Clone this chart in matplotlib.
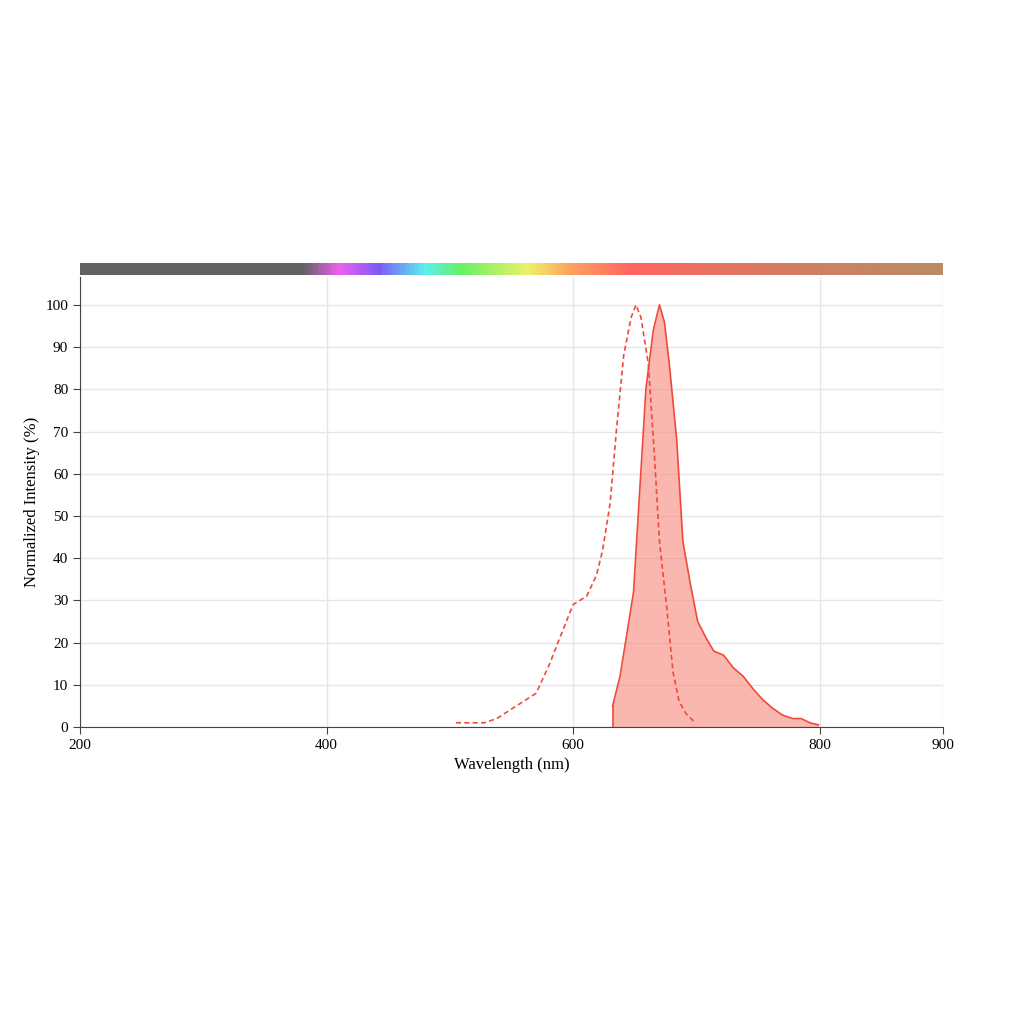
import matplotlib
matplotlib.use("Agg")
import matplotlib.pyplot as plt
import numpy as np
from matplotlib.colors import LinearSegmentedColormap

plt.rcParams['font.family'] = ['Liberation Serif', 'DejaVu Serif']

ex_wl = [505, 528, 538, 554, 570, 581, 589, 600, 611, 619, 624, 630, 635, 641, 647, 651, 655, 661, 666, 670, 676, 681, 686, 692, 699]
ex_val = [1, 1, 2, 5, 8, 15, 21, 29, 31, 36, 42, 53, 70, 88, 97, 100, 97, 86, 64, 44, 28, 13, 6, 3, 1]
em_wl = [632, 638, 643, 649, 654, 659, 665, 670, 674, 678, 684, 689, 695, 701, 708, 714, 722, 730, 738, 746, 754, 762, 770, 778, 785, 792, 799]
em_val = [5, 12, 21, 32, 56, 80, 94, 100, 96, 86, 68, 44, 34, 25, 21, 18, 17, 14, 12, 9, 6.4, 4.4, 2.8, 2, 2, 1, 0.5]
xticks = [200, 400, 600, 800, 900]
yticks = list(range(0, 101, 10))

fig = plt.figure(figsize=(10.24, 10.24), dpi=100)
ax = fig.add_axes([80/1024, 1-727/1024, 863/1024, 450/1024])
ax.fill_between(em_wl, em_val, 0, color='#f8877c', alpha=0.6, linewidth=0)
ax.plot(em_wl, em_val, color='#f04a3c', lw=1.2)
ax.plot([em_wl[0], em_wl[0]], [0, em_val[0]], color='#f04a3c', lw=1.2)
ax.plot(ex_wl, ex_val, color='#f04a3c', lw=1.2, ls=(0, (3, 2)))
ax.set_xlim(200, 900)
ax.set_ylim(0, 106.6)
ax.set_xticks(xticks)
ax.set_yticks(yticks)
ax.grid(True, color='#e6e6e6', lw=1)
ax.set_axisbelow(True)
for s in ['top', 'right']:
    ax.spines[s].set_visible(False)
for s in ['left', 'bottom']:
    ax.spines[s].set_color('#444444')
ax.tick_params(labelsize=11, color='#444444', length=5)
ax.set_xlabel('Wavelength (nm)', fontsize=12)
ax.set_ylabel('Normalized Intensity (%)', fontsize=12)

cax = fig.add_axes([80/1024, 1-275/1024, 863/1024, 12/1024])
stops = [(0.0, '#626262'), (0.257, '#626262'), (0.3, '#f060f0'), (0.345, '#7b5cf5'),
         (0.4, '#5cf0f0'), (0.44, '#66f066'), (0.52, '#f0f066'), (0.57, '#ffa060'),
         (0.64, '#ff6464'), (0.8, '#d87a66'), (1.0, '#b88c64')]
cmap = LinearSegmentedColormap.from_list('spec', stops)
cax.imshow(np.linspace(0, 1, 700)[None, :], aspect='auto', cmap=cmap, extent=[200, 900, 0, 1])
cax.axis('off')
fig.savefig('out.png', dpi=100)
